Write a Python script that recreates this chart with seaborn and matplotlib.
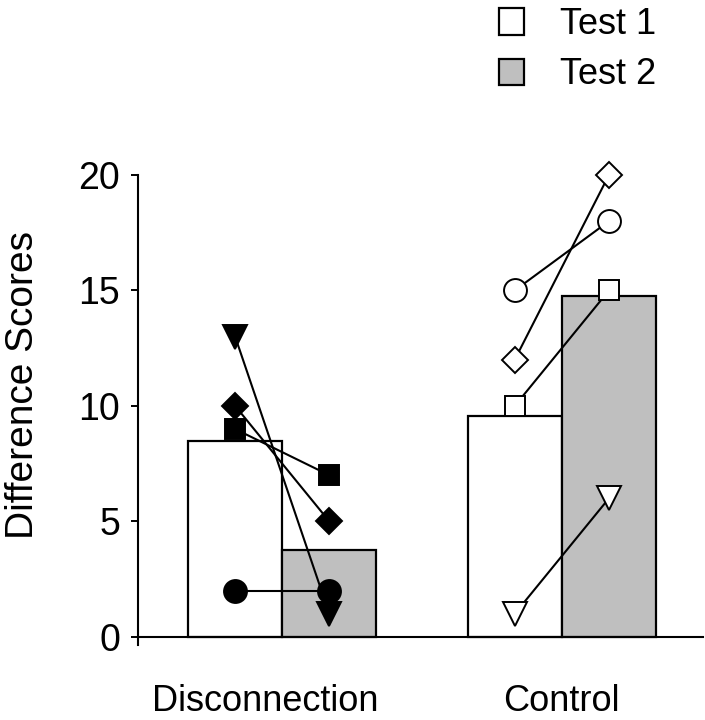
import matplotlib
matplotlib.use("Agg")
import matplotlib.pyplot as plt
import matplotlib.transforms as mtransforms
from matplotlib.patches import Patch
import pandas as pd
import seaborn as sns

sns.set_style("ticks")
plt.rcParams["font.family"] = ["Liberation Sans", "DejaVu Sans"]
for k in ["text.color", "axes.labelcolor", "xtick.color", "ytick.color", "axes.edgecolor"]:
    plt.rcParams[k] = "black"

# bar means
groups = ["Disconnection", "Control"]
tests = ["Test 1", "Test 2"]
bar_means = {
    "Disconnection": [8.5, 3.75],
    "Control": [9.55, 14.75],
}

# individual subjects: (group, marker, test1, test2)
subj_group = ["Disconnection"] * 4 + ["Control"] * 4
subj_marker = ["v", "D", "s", "o", "o", "D", "s", "v"]
subj_test1 = [13, 10, 9, 2, 15, 12, 10, 1]
subj_test2 = [1, 5, 7, 2, 18, 20, 15, 6]

marker_size = {"o": 16.5, "s": 14, "D": 13.5, "v": 17}
bar_colors = {"Test 1": "white", "Test 2": "#bfbfbf"}
total_width = 0.674

rows = []
for g in groups:
    for t, v in zip(tests, bar_means[g]):
        rows.append({"group": g, "test": t, "score": v})
bars = pd.DataFrame(rows)

fig = plt.figure(figsize=(7.05, 7.2), dpi=100)
ax = fig.add_axes([138 / 705, 75 / 720, (703 - 138) / 705, (645 - 175) / 720])

sns.barplot(data=bars, x="group", y="score", hue="test", order=groups,
            hue_order=tests, palette=bar_colors, edgecolor="black",
            linewidth=1.6, width=total_width, gap=0, legend=False,
            errorbar=None, ax=ax, zorder=1)

# subject lines connecting Test 1 and Test 2
bw = total_width / 2
for g, m, a, b in zip(subj_group, subj_marker, subj_test1, subj_test2):
    gi = groups.index(g)
    face = "black" if g == "Disconnection" else "white"
    ax.plot([gi - bw / 2, gi + bw / 2], [a, b], color="black", lw=1.5,
            marker=m, markersize=marker_size[m], markerfacecolor=face,
            markeredgecolor="black", markeredgewidth=1.4, zorder=3,
            clip_on=False)

ax.set_xlim(-0.516, 1.505)
ax.set_ylim(-0.35, 20)
ax.spines["bottom"].set_position(("data", 0))
ax.spines["left"].set_bounds(-0.35, 20)
for s in ["top", "right"]:
    ax.spines[s].set_visible(False)
for s in ["left", "bottom"]:
    ax.spines[s].set_linewidth(1.5)

ax.set_yticks([0, 5, 10, 15, 20])
ax.tick_params(axis="y", direction="out", length=5, width=1.4, labelsize=27, pad=8)
ax.tick_params(axis="x", length=0, labelsize=26, pad=34)
ax.set_xlabel("")
ax.set_ylabel("Difference Scores", fontsize=28)
ax.yaxis.set_label_coords(-0.172, 0.553)

# Disconnection label sits a little left of its group centre
lbl = ax.get_xticklabels()[0]
lbl.set_transform(lbl.get_transform() + mtransforms.ScaledTranslation(-17 / 100, 0, fig.dpi_scale_trans))

handles = [Patch(facecolor=bar_colors[t], edgecolor="black", linewidth=1.6) for t in tests]
fig.legend(handles, tests, loc="upper left", bbox_to_anchor=(467 / 705, 1.035),
           frameon=False, fontsize=26, handlelength=0.68, handleheight=0.75,
           handletextpad=1.0, labelspacing=0.42)

fig.savefig("out.png", dpi=100)
